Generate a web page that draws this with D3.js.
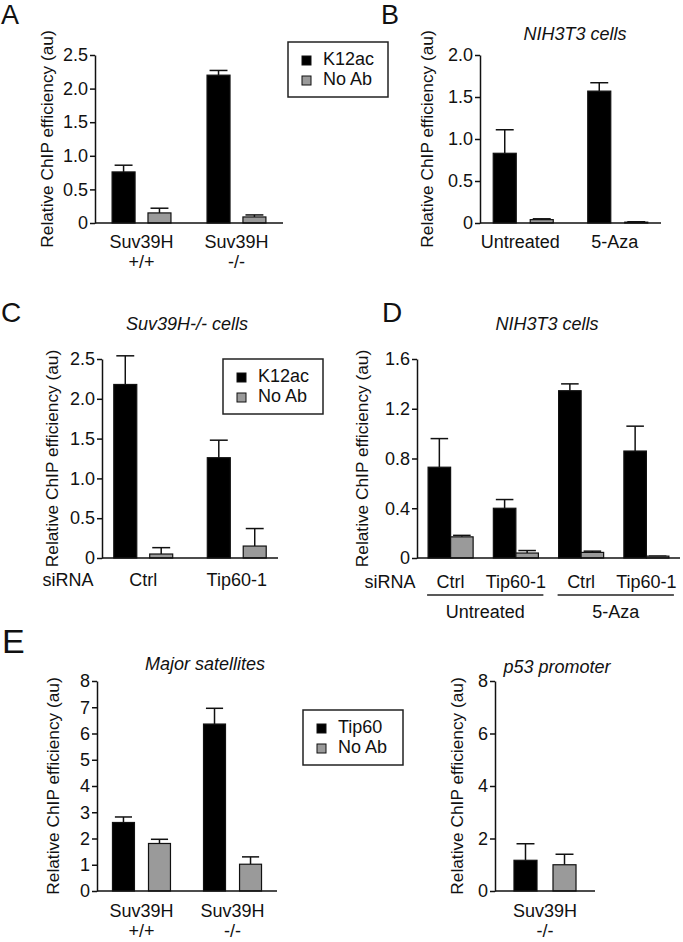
<!DOCTYPE html>
<html><head><meta charset="utf-8">
<script src="https://cdn.jsdelivr.net/npm/d3@7"></script>
<style>
body{margin:0;background:#fff}
svg{display:block}
text{font-family:"Liberation Sans",Arial,sans-serif;fill:#111}
</style>
</head><body>
<svg id="c" width="683" height="942"></svg>
<script>
// ---------- DATA ----------
const seriesK12 = ["K12ac", "No Ab"];
const seriesTip = ["Tip60", "No Ab"];

// Panel A
const catsA = [["Suv39H", "+/+"], ["Suv39H", "-/-"]];
const k12acA = [0.76, 2.20];
const k12acErrA = [0.10, 0.07];
const noAbA = [0.15, 0.09];
const noAbErrA = [0.07, 0.03];
const ticksA = [0, 0.5, 1.0, 1.5, 2.0, 2.5];
const tickLabelsA = ["0", "0.5", "1.0", "1.5", "2.0", "2.5"];

// Panel B
const catsB = [["Untreated"], ["5-Aza"]];
const k12acB = [0.83, 1.57];
const k12acErrB = [0.28, 0.10];
const noAbB = [0.04, 0.01];
const noAbErrB = [0.01, 0.005];
const ticksB = [0, 0.5, 1.0, 1.5, 2.0];
const tickLabelsB = ["0", "0.5", "1.0", "1.5", "2.0"];

// Panel C
const catsC = [["Ctrl"], ["Tip60-1"]];
const k12acC = [2.18, 1.26];
const k12acErrC = [0.36, 0.22];
const noAbC = [0.05, 0.15];
const noAbErrC = [0.08, 0.22];
const ticksC = [0, 0.5, 1.0, 1.5, 2.0, 2.5];
const tickLabelsC = ["0", "0.5", "1.0", "1.5", "2.0", "2.5"];

// Panel D
const catsD = [["Ctrl"], ["Tip60-1"], ["Ctrl"], ["Tip60-1"]];
const treatD = ["Untreated", "5-Aza"];
const k12acD = [0.73, 0.40, 1.345, 0.86];
const k12acErrD = [0.23, 0.07, 0.055, 0.20];
const noAbD = [0.17, 0.04, 0.045, 0.015];
const noAbErrD = [0.012, 0.02, 0.01, 0.0];
const ticksD = [0, 0.4, 0.8, 1.2, 1.6];
const tickLabelsD = ["0", "0.4", "0.8", "1.2", "1.6"];

// Panel E left (Major satellites)
const catsE = [["Suv39H", "+/+"], ["Suv39H", "-/-"]];
const tip60E = [2.61, 6.36];
const tip60ErrE = [0.21, 0.60];
const noAbE = [1.81, 1.02];
const noAbErrE = [0.16, 0.28];
const ticksE = [0, 1, 2, 3, 4, 5, 6, 7, 8];
const tickLabelsE = ["0", "1", "2", "3", "4", "5", "6", "7", "8"];

// Panel E right (p53 promoter)
const catsF = [["Suv39H", "-/-"]];
const tip60F = [1.17];
const tip60ErrF = [0.63];
const noAbF = [1.00];
const noAbErrF = [0.40];
const ticksF = [0, 2, 4, 6, 8];
const tickLabelsF = ["0", "2", "4", "6", "8"];

// ---------- DRAWING ----------
const svg = d3.select("#c");
const GRAY = "#9a9a9a";
const INK = "#111";

function panel(o) {
  const g = svg.append("g");
  const x = d3.scaleBand().domain(d3.range(o.cats.length)).range(o.xr)
    .paddingInner(o.pi).paddingOuter(o.po);
  const xi = d3.scaleBand().domain([0, 1]).range([0, x.bandwidth()]).paddingInner(o.ipi);
  const y = d3.scaleLinear().domain([0, o.ymax]).range(o.yr);
  const bw = xi.bandwidth();

  o.vals.forEach((vals, si) => {
    const errs = o.errs[si];
    vals.forEach((v, i) => {
      const bx = x(i) + xi(si);
      const top = y(v + errs[i]);
      const cw = bw * 0.78;
      g.append("line").attr("x1", bx + bw / 2).attr("x2", bx + bw / 2)
        .attr("y1", y(v)).attr("y2", top).attr("stroke", INK).attr("stroke-width", 1.5);
      g.append("line").attr("x1", bx + bw / 2 - cw / 2).attr("x2", bx + bw / 2 + cw / 2)
        .attr("y1", top).attr("y2", top).attr("stroke", INK).attr("stroke-width", 1.5);
      g.append("rect").attr("x", bx).attr("y", y(v)).attr("width", bw)
        .attr("height", Math.max(0.8, y(0) - y(v)))
        .attr("fill", si === 0 ? "#000" : GRAY)
        .attr("stroke", "#111").attr("stroke-width", 1.2);
    });
  });

  const ax = d3.axisLeft(y).tickValues(o.ticks).tickFormat((d, i) => o.tickLabels[i])
    .tickSize(5).tickPadding(2).tickSizeOuter(0);
  const ag = g.append("g").attr("transform", `translate(${o.xr[0]},0)`).call(ax);
  ag.select(".domain").attr("stroke", INK).attr("stroke-width", 1.5);
  ag.selectAll(".tick line").attr("stroke", INK).attr("stroke-width", 1.5);
  ag.selectAll(".tick text").attr("font-size", 18).attr("fill", INK)
    .attr("font-family", '"Liberation Sans",Arial,sans-serif');

  g.append("line").attr("x1", o.xr[0]).attr("x2", o.xr[1])
    .attr("y1", y(0)).attr("y2", y(0)).attr("stroke", INK).attr("stroke-width", 1.5);

  const cy = (o.yr[0] + o.yr[1]) / 2;
  g.append("text").attr("transform", `translate(${o.ylabX},${cy}) rotate(-90)`)
    .attr("text-anchor", "middle").attr("font-size", 17.3)
    .text("Relative ChIP efficiency (au)");

  o.cats.forEach((lines, i) => {
    lines.forEach((t, li) => {
      g.append("text").attr("x", x(i) + x.bandwidth() / 2 + (o.catDx || 0))
        .attr("y", o.catY[li]).attr("text-anchor", "middle").attr("font-size", 18).text(t);
    });
  });

  if (o.title) {
    g.append("text").attr("x", o.title[1]).attr("y", o.title[2])
      .attr("text-anchor", "middle").attr("font-size", 18).attr("font-style", "italic")
      .text(o.title[0]);
  }
  if (o.letter) {
    g.append("text").attr("x", o.letter[1]).attr("y", o.letter[2])
      .attr("font-size", o.letter[3]).text(o.letter[0]);
  }
  if (o.siRNA) {
    g.append("text").attr("x", o.siRNA[0]).attr("y", o.siRNA[1])
      .attr("text-anchor", "middle").attr("font-size", 18).text("siRNA");
  }
  return { g, x, y };
}

function legend(bx, by, labels) {
  const g = svg.append("g").attr("transform", `translate(${bx},${by})`);
  g.append("rect").attr("width", 100).attr("height", 55)
    .attr("fill", "none").attr("stroke", "#222").attr("stroke-width", 1.5);
  labels.forEach((l, i) => {
    g.append("rect").attr("x", 14).attr("y", 14 + i * 20).attr("width", 9).attr("height", 9)
      .attr("fill", i === 0 ? "#000" : GRAY).attr("stroke", "#111").attr("stroke-width", 1);
    g.append("text").attr("x", 35).attr("y", 23 + i * 20).attr("font-size", 18).text(l);
  });
}

// Panel A
panel({
  cats: catsA, vals: [k12acA, noAbA], errs: [k12acErrA, noAbErrA],
  xr: [95, 283], pi: 0.38, po: 0.18, ipi: 0.36,
  ymax: 2.5, yr: [223, 55], ticks: ticksA, tickLabels: tickLabelsA,
  ylabX: 53, catY: [248, 268], letter: ["A", 1, 24, 27]
});
legend(288, 42, seriesK12);

// Panel B
panel({
  cats: catsB, vals: [k12acB, noAbB], errs: [k12acErrB, noAbErrB],
  xr: [480, 661], pi: 0.365, po: 0.14, ipi: 0.378,
  ymax: 2.0, yr: [223, 55], ticks: ticksB, tickLabels: tickLabelsB,
  ylabX: 433, catY: [248], catDx: -3, title: ["NIH3T3 cells", 575, 40], letter: ["B", 381, 24, 27]
});

// Panel C
panel({
  cats: catsC, vals: [k12acC, noAbC], errs: [k12acErrC, noAbErrC],
  xr: [102, 278], pi: 0.37, po: 0.126, ipi: 0.36,
  ymax: 2.5, yr: [558, 359], ticks: ticksC, tickLabels: tickLabelsC,
  ylabX: 58, catY: [586], title: ["Suv39H-/- cells", 187, 330], letter: ["C", 1, 322, 28],
  siRNA: [68, 586]
});
legend(223, 359, seriesK12);

// Panel D
const pD = panel({
  cats: catsD, vals: [k12acD, noAbD], errs: [k12acErrD, noAbErrD],
  xr: [417, 680], pi: 0.31, po: 0.17, ipi: 0,
  ymax: 1.6, yr: [558, 359], ticks: ticksD, tickLabels: tickLabelsD,
  ylabX: 368, catY: [588], title: ["NIH3T3 cells", 547, 330], letter: ["D", 382, 322, 28],
  siRNA: [390, 588]
});
treatD.forEach((t, k) => {
  const x0 = pD.x(2 * k) - 1, x1 = pD.x(2 * k + 1) + pD.x.bandwidth() + 5;
  pD.g.append("line").attr("x1", x0).attr("x2", x1).attr("y1", 595).attr("y2", 595)
    .attr("stroke", "#222").attr("stroke-width", 1.3);
  pD.g.append("text").attr("x", (x0 + x1) / 2).attr("y", 618).attr("text-anchor", "middle")
    .attr("font-size", 18).text(t);
});

// Panel E left
panel({
  cats: catsE, vals: [tip60E, noAbE], errs: [tip60ErrE, noAbErrE],
  xr: [97, 277], pi: 0.363, po: 0.17, ipi: 0.39,
  ymax: 8, yr: [891, 681], ticks: ticksE, tickLabels: tickLabelsE,
  ylabX: 59, catY: [917, 937], title: ["Major satellites", 205, 670], letter: ["E", 2, 653, 34]
});
legend(303, 710, seriesTip);

// Panel E right
panel({
  cats: catsF, vals: [tip60F, noAbF], errs: [tip60ErrF, noAbErrF],
  xr: [495, 595], pi: 0, po: 0.306, ipi: 0.41,
  ymax: 8, yr: [891, 681], ticks: ticksF, tickLabels: tickLabelsF,
  ylabX: 463, catY: [917, 937], title: ["p53 promoter", 557, 673]
});
</script>
</body></html>
